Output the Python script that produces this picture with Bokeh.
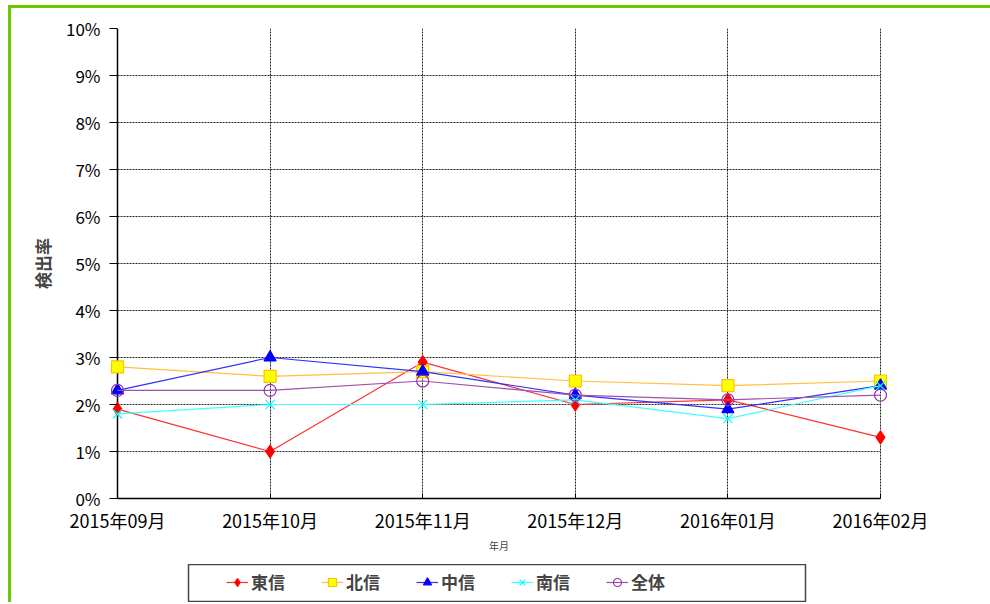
from bokeh.plotting import figure
from bokeh.layouts import column
from bokeh.models import Range1d, FixedTicker, Legend, LegendItem, Grid
from bokeh.embed import file_html
from bokeh.resources import INLINE

months = ["2015年09月", "2015年10月", "2015年11月", "2015年12月", "2016年01月", "2016年02月"]
toshin = [1.9, 1.0, 2.9, 2.0, 2.1, 1.3]
hokushin = [2.8, 2.6, 2.7, 2.5, 2.4, 2.5]
chushin = [2.3, 3.0, 2.7, 2.2, 1.9, 2.4]
nanshin = [1.8, 2.0, 2.0, 2.1, 1.7, 2.4]
zentai = [2.3, 2.3, 2.5, 2.2, 2.1, 2.2]
series_names = ["東信", "北信", "中信", "南信", "全体"]
y_ticks = list(range(0, 11))
y_tick_labels = [f"{t}%" for t in y_ticks]

FONT = "Noto Sans CJK JP"
x = list(range(len(months)))
x_last = len(months) - 1

# pixel layout: data area 763px wide, with 8px extra frame on each side so
# edge markers are not clipped
DATA_W = 763
PAD = 8
pad_u = PAD * x_last / DATA_W
BL, BR = 98, 102

p = figure(width=979, height=553, output_backend="svg", toolbar_location=None,
           x_range=Range1d(-pad_u, x_last + pad_u), y_range=Range1d(0, 10),
           min_border_left=BL, min_border_right=BR, min_border_top=20, min_border_bottom=63)
p.outline_line_color = None
p.background_fill_color = "white"

# axes
p.xaxis.ticker = FixedTicker(ticks=x)
p.xaxis.major_label_overrides = {i: m for i, m in zip(x, months)}
p.xaxis.bounds = (0, x_last)
p.yaxis.ticker = FixedTicker(ticks=y_ticks)
p.yaxis.major_label_overrides = {t: l for t, l in zip(y_ticks, y_tick_labels)}
for ax in (p.xaxis[0], p.yaxis[0]):
    ax.axis_line_color = "black"
    ax.axis_line_width = 1.5
    ax.major_tick_line_color = "black"
    ax.minor_tick_line_color = None
    ax.major_label_text_font = FONT
    ax.major_label_text_color = "black"
p.xaxis.major_tick_in = 5
p.xaxis.major_tick_out = 0
p.xaxis.major_label_text_font_size = "18px"
p.xaxis.major_label_standoff = 8
p.yaxis.axis_line_color = None
p.yaxis.major_tick_in = PAD
p.yaxis.major_tick_out = 0
p.yaxis.major_label_text_font_size = "17px"
p.yaxis.major_label_standoff = 9

p.xaxis.axis_label = "年月"
p.xaxis.axis_label_text_font = FONT
p.xaxis.axis_label_text_font_size = "10px"
p.xaxis.axis_label_text_font_style = "normal"
p.xaxis.axis_label_standoff = 2
p.yaxis.axis_label = "検出率"
p.yaxis.axis_label_text_font = FONT
p.yaxis.axis_label_text_font_size = "17px"
p.yaxis.axis_label_text_font_style = "bold"
p.yaxis.axis_label_standoff = 8

# grids
p.xgrid.ticker = FixedTicker(ticks=x[1:])
p.ygrid.ticker = FixedTicker(ticks=y_ticks[1:-1])
for g in (p.xgrid[0], p.ygrid[0]):
    g.grid_line_color = "#222222"
    g.grid_line_dash = "2 1"
    g.grid_line_width = 1
p.ygrid.cross_bounds = (0, x_last)

# left axis line at the first category and gray top border line
p.add_layout(Grid(dimension=0, ticker=FixedTicker(ticks=x[:1]),
                  grid_line_color="black", grid_line_width=1.5))
p.add_layout(Grid(dimension=1, ticker=FixedTicker(ticks=y_ticks[-1:]),
                  grid_line_color="#999999", grid_line_width=1.5,
                  cross_bounds=(0, x_last)))

# series
styles = [
    (toshin, "#ff3030", "diamond", "#ff0000", "#ff0000", 13),
    (hokushin, "#ffc040", "square", "#ffff00", "#ffc000", 12),
    (chushin, "#3030ff", "triangle", "#0000ff", "#0000ff", 12),
    (nanshin, "#40ffff", "x", None, "#00ffff", 13),
    (zentai, "#a050a8", "circle", None, "#9933aa", 12),
]

# legend panel (separate small figure acting as the boxed legend);
# the column layout aligns its frame borders with the main plot's borders
LEG_W = 617
lg = figure(width=LEG_W + BL + BR, height=38, output_backend="svg", toolbar_location=None,
            x_range=Range1d(0, 1), y_range=Range1d(0, 1),
            x_axis_type=None, y_axis_type=None,
            min_border_left=BL, min_border_right=BR, min_border_top=0, min_border_bottom=0)
lg.margin = (3, 0, 0, 177 - BL)
lg.xgrid.visible = False
lg.ygrid.visible = False
lg.outline_line_color = "#444444"
lg.outline_line_width = 1.5

items = []
for name, (vals, lc, mk, fc, mlc, sz) in zip(series_names, styles):
    p.line(x, vals, line_color=lc, line_width=1.2)
    p.scatter(x, vals, marker=mk, size=sz, fill_color=fc, line_color=mlc, line_width=1.2)
    l1 = lg.line(x, vals, line_color=lc, line_width=1.2, visible=False)
    l2 = lg.scatter(x, vals, marker=mk, size=sz, fill_color=fc, line_color=mlc,
                    line_width=1.2, visible=False)
    items.append(LegendItem(label=name, renderers=[l1, l2]))

legend = Legend(items=items, orientation="horizontal", location=(38, 8),
                glyph_width=22, glyph_height=20, label_standoff=3, spacing=36,
                padding=0, border_line_color=None, background_fill_alpha=0,
                inactive_fill_alpha=0,
                label_text_font=FONT, label_text_font_size="17px",
                label_text_font_style="bold", label_height=20)
lg.add_layout(legend, "center")

layout = column(p, lg, spacing=0)
layout.margin = (5, 0, 0, 8)
layout.styles = {"border-left": "3px solid #66cc00", "border-top": "3px solid #66cc00"}

open("out.html", "w").write(file_html(layout, INLINE))
